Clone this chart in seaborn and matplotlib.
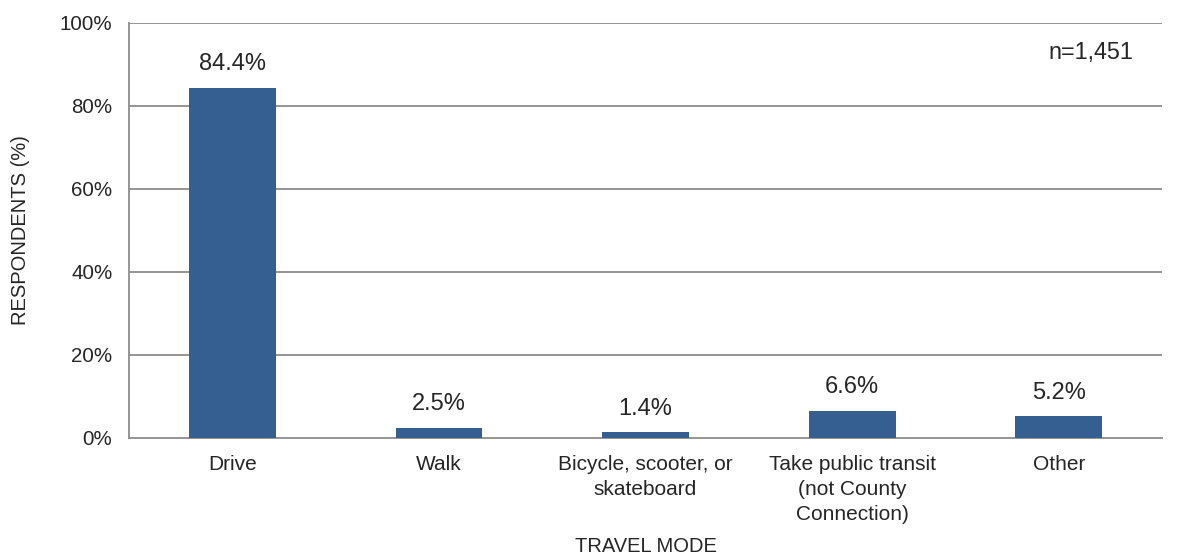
import matplotlib.pyplot as plt
import seaborn as sns
import pandas as pd

modes = ["Drive", "Walk", "Bicycle, scooter, or\nskateboard",
         "Take public transit\n(not County\nConnection)", "Other"]
shares = [84.4, 2.5, 1.4, 6.6, 5.2]
yticks = [0, 20, 40, 60, 80, 100]
n_label = "n=1,451"

df = pd.DataFrame({"mode": modes, "share": shares})

sns.set_style("white")
plt.rcParams['font.family'] = ['Liberation Sans', 'DejaVu Sans']

grid_col = "#8c8c8c"
text_col = "#262626"

fig = plt.figure(figsize=(11.85, 5.54), dpi=100)
ax = fig.add_axes([0.1089, 0.2094, 0.8717, 0.7491])

sns.barplot(data=df, x="mode", y="share", color="#365f91", saturation=1,
            width=0.42, linewidth=0, ax=ax, zorder=3)

ax.set_ylim(0, 100)
ax.set_xlim(-0.5, len(modes) - 0.5)
ax.set_yticks(yticks)
ax.set_yticklabels([f"{v}%" for v in yticks], fontsize=14.8, color=text_col)
for v in yticks[1:]:
    ax.axhline(v, color=grid_col, lw=1.3, zorder=1)

# category labels at centres, tick marks at boundaries
ax.set_xticks([i - 0.5 for i in range(len(modes))])
ax.set_xticklabels([])
ax.set_xticks(range(len(modes)), minor=True)
ax.set_xticklabels(modes, minor=True, fontsize=15, color=text_col,
                   linespacing=1.4)
ax.tick_params(axis="x", which="major", length=5, width=1.3, color=grid_col,
               direction="out")
ax.tick_params(axis="x", which="minor", length=0, pad=12)
ax.tick_params(axis="y", length=6, width=1.3, color=grid_col, pad=6)

for s in ["top", "right"]:
    ax.spines[s].set_visible(False)
for s in ["left", "bottom"]:
    ax.spines[s].set_color(grid_col)
    ax.spines[s].set_linewidth(1.3)

ax.bar_label(ax.containers[0], labels=[f"{v}%" for v in shares],
             fontsize=17, color=text_col, padding=9)

ax.text(4.156, 93, n_label, ha="center", va="center", fontsize=16.8,
        color=text_col)

ax.set_xlabel("TRAVEL MODE", fontsize=14.5, color=text_col, va="top")
ax.xaxis.set_label_coords(0.5, -0.238)
ax.set_ylabel("RESPONDENTS (%)", fontsize=14.5, color=text_col)
ax.yaxis.set_label_coords(-0.096, 0.5)

fig.savefig("out.png", dpi=100)
